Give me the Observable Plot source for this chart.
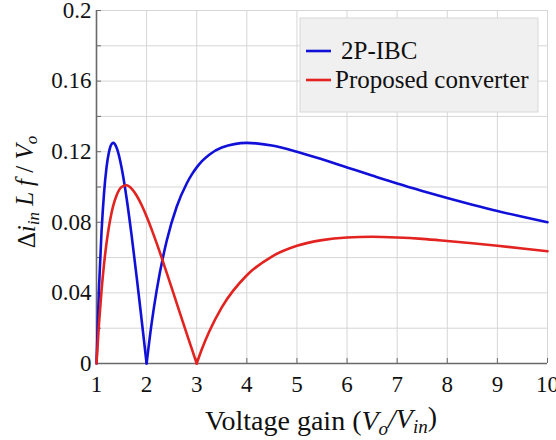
<!DOCTYPE html>
<html>
<head>
<meta charset="utf-8">
<script src="https://cdn.jsdelivr.net/npm/d3@7"></script>
<script src="https://cdn.jsdelivr.net/npm/@observablehq/plot@0.6"></script>
<style>
  body { margin: 0; background: #fff; }
  #chart { width: 556px; height: 440px; }
  #chart svg text { font-family: 'Liberation Serif', 'Times New Roman', serif !important; }
</style>
</head>
<body>
<div id="chart"></div>
<script>
// ---- data ----
const gain = [1, 1.05, 1.1, 1.15, 1.2, 1.25, 1.3, 1.333, 1.4, 1.5, 1.6, 1.7, 1.8, 1.9, 2, 2.1, 2.2, 2.4, 2.6, 2.8, 2.9, 3, 3.1, 3.25, 3.5, 4, 4.5, 5, 5.5, 6, 6.5, 7, 7.5, 8, 8.5, 9, 9.5, 10];
const ibc = [0, 0.0431, 0.0744, 0.0964, 0.1111, 0.12, 0.1243, 0.125, 0.1224, 0.1111, 0.0938, 0.0727, 0.0494, 0.0249, 0, 0.0227, 0.0413, 0.0694, 0.0888, 0.1020, 0.1070, 0.1111, 0.1145, 0.1183, 0.1224, 0.125, 0.1235, 0.12, 0.1157, 0.1111, 0.1065, 0.1020, 0.0978, 0.0938, 0.0900, 0.0864, 0.0831, 0.08];
const proposed = [0, 0.0227, 0.0411, 0.0561, 0.0682, 0.0778, 0.0853, 0.0893, 0.0952, 0.1, 0.1010, 0.0991, 0.0952, 0.0898, 0.0833, 0.0760, 0.0682, 0.0515, 0.0342, 0.0169, 0.0084, 0, 0.0079, 0.0181, 0.0318, 0.05, 0.0606, 0.0667, 0.0699, 0.0714, 0.0718, 0.0714, 0.0706, 0.0694, 0.0681, 0.0667, 0.0652, 0.0636];
const seriesNames = ["2P-IBC", "Proposed converter"];
const seriesColors = ["#1010d8", "#e2231f"];
const cusps = [2, 3];           // zero-ripple gains where each curve has a corner
const xTicks = [1, 2, 3, 4, 5, 6, 7, 8, 9, 10];
const yTicks = [0, 0.04, 0.08, 0.12, 0.16, 0.2];
const yTickLabels = ["0", "0.04", "0.08", "0.12", "0.16", "0.2"];
const yMinor = [0, 0.02, 0.04, 0.06, 0.08, 0.1, 0.12, 0.14, 0.16, 0.18, 0.2];

// long table, split into segments at each cusp so the corners stay sharp
const rows = [];
[ibc, proposed].forEach((vals, s) => {
  gain.forEach((g, i) => {
    if (g <= cusps[s]) rows.push({ gain: g, ripple: vals[i], series: seriesNames[s], seg: seriesNames[s] + "a" });
    if (g >= cusps[s]) rows.push({ gain: g, ripple: vals[i], series: seriesNames[s], seg: seriesNames[s] + "b" });
  });
});

const FONT = "'Liberation Serif', 'Times New Roman', serif";

const chart = Plot.plot({
  width: 556,
  height: 440,
  marginLeft: 96,
  marginRight: 9,
  marginTop: 10,
  marginBottom: 77,
  style: { fontFamily: FONT, fontSize: "23px", background: "#fff", color: "#111", overflow: "visible" },
  x: { domain: [1, 10] },
  y: { domain: [0, 0.2] },
  color: { domain: seriesNames, range: seriesColors },
  marks: [
    Plot.gridX(xTicks, { stroke: "#d6d6d6", strokeOpacity: 1 }),
    Plot.gridY(yMinor, { stroke: "#d6d6d6", strokeOpacity: 1 }),
    Plot.ruleY([0], { stroke: "#6a6a6a", strokeWidth: 1.6 }),
    Plot.ruleX([1], { stroke: "#6a6a6a", strokeWidth: 1.6 }),
    Plot.axisX(xTicks, { tickSize: -5, text: null, stroke: "#6a6a6a", label: null }),
    Plot.axisX(xTicks, { tickSize: 0, tickPadding: 12, label: null, fill: "#111", fontSize: 23 }),
    Plot.axisY(yMinor, { tickSize: -5, text: null, stroke: "#6a6a6a", label: null }),
    Plot.axisY(yTicks, { tickSize: 0, tickPadding: 5, label: null, fill: "#111", fontSize: 23,
      tickFormat: d => yTickLabels[yTicks.indexOf(d)] }),
    Plot.line(rows, { x: "gain", y: "ripple", z: "seg", stroke: "series", strokeWidth: 2.6, curve: "monotone-x" })
  ]
});

document.getElementById("chart").appendChild(chart);

const svg = d3.select(chart);
// force the tick-label font on each text element
svg.selectAll('g[aria-label$="tick label"] text')
  .style("font-size", "23px")
  .style("font-family", FONT);

// ---- axis titles with sub-scripts, and legend ----
// x title
const xt = svg.append("text")
  .attr("x", 321).attr("y", 430)
  .attr("text-anchor", "middle")
  .style("font-size", "28px").attr("fill", "#111");
xt.append("tspan").text("Voltage gain (");
xt.append("tspan").attr("font-style", "italic").text("V");
xt.append("tspan").attr("font-style", "italic").attr("font-size", "19px").attr("dy", "0.25em").text("o");
xt.append("tspan").attr("dy", "-0.25em").attr("font-style", "italic").text("/");
xt.append("tspan").attr("font-style", "italic").text("V");
xt.append("tspan").attr("font-style", "italic").attr("font-size", "19px").attr("dy", "0.25em").text("in");
xt.append("tspan").attr("dy", "-0.25em").text(")");

// y title
const yt = svg.append("text")
  .attr("transform", "translate(35,192) rotate(-90)")
  .attr("text-anchor", "middle")
  .style("font-size", "25px").attr("fill", "#111");
yt.append("tspan").text("Δ");
yt.append("tspan").attr("font-style", "italic").text("i");
yt.append("tspan").attr("font-style", "italic").attr("font-size", "17px").attr("dy", "0.25em").text("in");
yt.append("tspan").attr("dy", "-0.25em").attr("font-style", "italic").text(" L f");
yt.append("tspan").text(" / ");
yt.append("tspan").attr("font-style", "italic").text("V");
yt.append("tspan").attr("font-style", "italic").attr("font-size", "17px").attr("dy", "0.25em").text("o");

// legend
const lg = svg.append("g");
lg.append("rect").attr("x", 300).attr("y", 18).attr("width", 238).attr("height", 94)
  .attr("fill", "#f0f0f0").attr("stroke", "#d8d8d8").attr("stroke-width", 1);
const legendY = [51, 80];
const legendTextX = [341, 335];
seriesNames.forEach((name, i) => {
  lg.append("line").attr("x1", 306).attr("x2", 331).attr("y1", legendY[i]).attr("y2", legendY[i])
    .attr("stroke", seriesColors[i]).attr("stroke-width", 2.6);
  lg.append("text").attr("x", legendTextX[i]).attr("y", legendY[i] + 8)
    .attr("text-anchor", "start")
    .style("font-size", "25px").attr("fill", "#111").text(name);
});
</script>
</body>
</html>
